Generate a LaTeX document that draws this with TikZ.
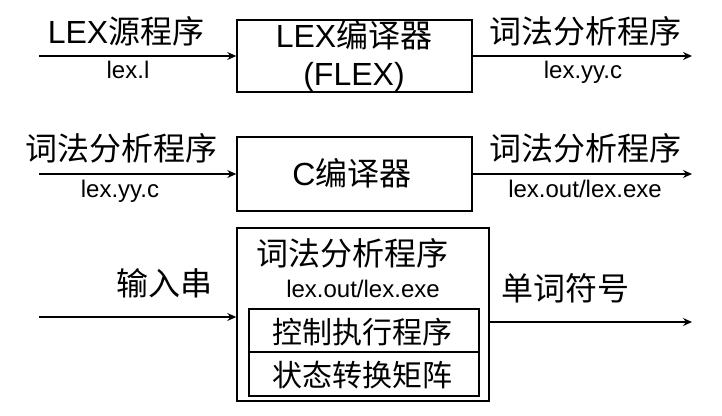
\documentclass[tikz,border=0pt]{standalone}
\usepackage{fontspec}
\setmainfont{Liberation Sans}
\newfontfamily\cjk{Noto Sans CJK SC}
\usetikzlibrary{arrows.meta}
\begin{document}
\begin{tikzpicture}[x=1pt,y=-1pt,
  big/.style={font=\fontsize{32}{38}\selectfont, inner sep=0pt, anchor=base},
  mid/.style={font=\fontsize{30}{36}\selectfont, inner sep=0pt, anchor=base},
  small/.style={font=\fontsize{24}{28}\selectfont, inner sep=0pt, anchor=base},
  box/.style={draw, line width=1.5pt, inner sep=0pt},
  flow/.style={line width=1.3pt, -{Stealth[length=9pt,width=8pt]}},
]
\useasboundingbox (0,0) rectangle (722,415);

% stage 1: LEX compiler
\node[box, minimum width=235pt, minimum height=72pt] (lexc) at (354.5,56) {};
\node[big] (lexc1) at (354,47) {LEX{\cjk 编译器}};
\node[big] (lexc2) at (354,85) {(FLEX)};
\node[big] (src) at (126,43) {LEX{\cjk 源程序}};
\node[small] (srcf) at (128,78) {lex.l};
\node[big] (gen) at (585,43) {\cjk 词法分析程序};
\node[small] (genf) at (583,78) {lex.yy.c};
\coordinate (s1) at (39,56);
\coordinate (e1) at (692,56);
\draw[flow] (s1) -- (lexc.west);
\draw[flow] (lexc.east) -- (e1);

% stage 2: C compiler
\node[box, minimum width=235pt, minimum height=74pt] (ccomp) at (354.5,174) {};
\node[big] (ccompt) at (352,185) {C{\cjk 编译器}};
\node[big] (csrc) at (121,160) {\cjk 词法分析程序};
\node[small] (csrcf) at (120,197) {lex.yy.c};
\node[big] (cout) at (585,160) {\cjk 词法分析程序};
\node[small] (coutf) at (585,197) {lex.out/lex.exe};
\coordinate (s2) at (39,174);
\coordinate (e2) at (692,174);
\draw[flow] (s2) -- (ccomp.west);
\draw[flow] (ccomp.east) -- (e2);

% stage 3: running the scanner
\node[box, minimum width=252pt, minimum height=173pt] (scan) at (363,314.5) {};
\node[big] (scant) at (352,265) {\cjk 词法分析程序};
\node[small] (scanf) at (363,297) {lex.out/lex.exe};
\node[box, minimum width=230pt, minimum height=43pt] (ctrl) at (364,330.5) {};
\node[box, minimum width=230pt, minimum height=44pt] (table) at (364,374) {};
\node[mid] (ctrlt) at (362,343) {\cjk 控制执行程序};
\node[mid] (tablet) at (362,386) {\cjk 状态转换矩阵};
\node[big] (inp) at (164.5,295) {\cjk 输入串};
\node[big] (tok) at (565,300) {\cjk 单词符号};
\coordinate (s3) at (39,317);
\coordinate (e3) at (692,322);
\draw[flow] (s3) -- (s3 -| scan.west);
\draw[flow] (e3 -| scan.east) -- (e3);
\end{tikzpicture}
\end{document}
